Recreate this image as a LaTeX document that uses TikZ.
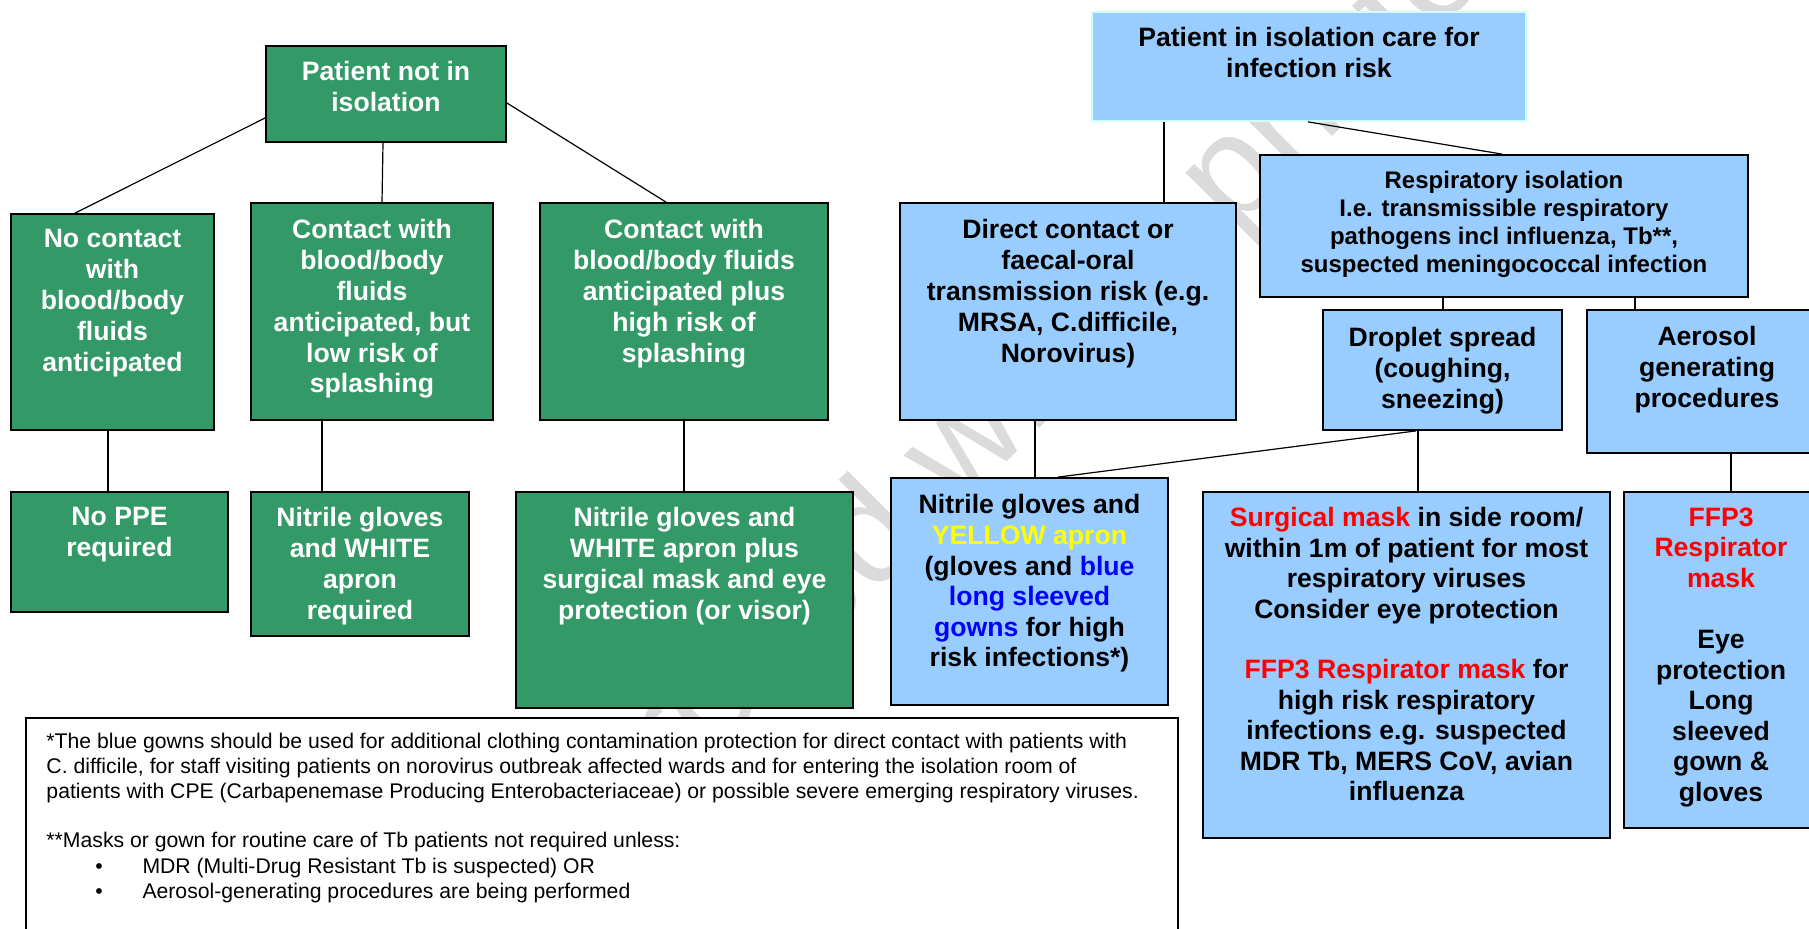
\documentclass[tikz,border=0pt]{standalone}
\usepackage{fontspec}
\setmainfont{Liberation Sans}
\usetikzlibrary{positioning,fit}
\definecolor{ppegreen}{HTML}{339966}
\definecolor{isoblue}{HTML}{99CCFF}
\definecolor{isoedge}{HTML}{CCFFFF}
\definecolor{alertred}{HTML}{FF0000}
\definecolor{apronyellow}{HTML}{FFFF00}
\definecolor{gownblue}{HTML}{0000FF}
\newcommand{\rd}[1]{\textcolor{alertred}{#1}}
\newcommand{\bl}[1]{\textcolor{gownblue}{#1}}
\begin{document}
\begin{tikzpicture}[x=.5pt,y=-.5pt,line width=.5pt,
  box/.style={draw=black,line width=.9pt,inner sep=0pt},
  gbox/.style={box,fill=ppegreen},
  bbox/.style={box,fill=isoblue},
  btxt/.style={inner sep=0pt,align=center,font=\fontsize{13.3}{15.4}\selectfont\bfseries},
  gtxt/.style={btxt,text=white},
  note/.style={inner sep=0pt,align=left,font=\fontsize{10.6}{12.5}\selectfont},
  link/.style={draw=black,line width=.6pt}]
  \path[use as bounding box] (0,0) rectangle (1809,929);
  % watermark
  \node[rotate=45,text=black!14,font=\fontsize{73}{73}\selectfont] (mark) at (923,492) {Uncontrolled when printed};
  % patient not in isolation
  \node[gbox,fit={(266,46)(506,142)}] (notiso) {};
  \node[gbox,fit={(11,214)(214,430)}] (nocontact) {};
  \node[gbox,fit={(251,203)(493,420)}] (lowrisk) {};
  \node[gbox,fit={(540,203)(828,420)}] (highrisk) {};
  \node[gbox,fit={(11,492)(228,612)}] (noppe) {};
  \node[gbox,fit={(251,492)(469,636)}] (whiteapron) {};
  \node[gbox,fit={(516,492)(853,708)}] (maskeye) {};
  \node[gtxt,below=8pt of notiso.north] (notisoT) {Patient not in\\isolation};
  \node[gtxt,below=8pt of nocontact.north] (nocontactT) {No contact\\with\\blood/body\\fluids\\anticipated};
  \node[gtxt,below=8.5pt of lowrisk.north] (lowriskT) {Contact with\\blood/body\\fluids\\anticipated, but\\low risk of\\splashing};
  \node[gtxt,below=8.5pt of highrisk.north] (highriskT) {Contact with\\blood/body fluids\\anticipated plus\\high risk of\\splashing};
  \node[gtxt,below=8pt of noppe.north] (noppeT) {No PPE\\required};
  \node[gtxt,below=8pt of whiteapron.north] (whiteapronT) {Nitrile gloves\\and WHITE\\apron\\required};
  \node[gtxt,below=8pt of maskeye.north] (maskeyeT) {Nitrile gloves and\\WHITE apron plus\\surgical mask and eye\\protection (or visor)};
  % patient in isolation
  \node[bbox,draw=isoedge,fit={(1092,12)(1526,121)}] (iso) {};
  \node[bbox,fit={(900,203)(1236,420)}] (direct) {};
  \node[bbox,fit={(1260,155)(1748,297)}] (resp) {};
  \node[bbox,fit={(1323,310)(1562,430)}] (droplet) {};
  \node[bbox,fit={(1587,310)(1827,453)}] (aerosol) {};
  \node[bbox,fit={(891,478)(1168,705)}] (yellow) {};
  \node[bbox,fit={(1203,492)(1610,838)}] (surgical) {};
  \node[bbox,fit={(1624,492)(1818,828)}] (ffp) {};
  \node[btxt,below=8pt of iso.north] (isoT) {Patient in isolation care for\\infection risk};
  \node[btxt,below=8.5pt of direct.north] (directT) {Direct contact or\\faecal-oral\\transmission risk (e.g.\\MRSA, C.difficile,\\Norovirus)};
  \node[btxt,font=\fontsize{12}{14}\selectfont\bfseries,below=8.5pt of resp.north] (respT) {Respiratory isolation\\I.e. transmissible respiratory\\pathogens incl influenza, Tb**,\\suspected meningococcal infection};
  \node[btxt,below=9pt of droplet.north] (dropletT) {Droplet spread\\(coughing,\\sneezing)};
  \node[btxt,below=8.5pt of aerosol.north] (aerosolT) {Aerosol\\generating\\procedures};
  \node[btxt,font=\fontsize{13.3}{15.3}\selectfont\bfseries,below=8.5pt of yellow.north] (yellowT) {Nitrile gloves and\\\textcolor{apronyellow}{YELLOW apron}\\(gloves and \bl{blue}\\\bl{long sleeved}\\\bl{gowns} for high\\risk infections*)};
  \node[btxt,font=\fontsize{13.3}{15.2}\selectfont\bfseries,below=8pt of surgical.north] (surgicalT) {\rd{Surgical mask} in side room/\\within 1m of patient for most\\respiratory viruses\\Consider eye protection\\[15.2pt]\rd{FFP3 Respirator mask} for\\high risk respiratory\\infections e.g. suspected\\MDR Tb, MERS CoV, avian\\influenza};
  \node[btxt,font=\fontsize{13.3}{15.3}\selectfont\bfseries,below=8pt of ffp.north] (ffpT) {\rd{FFP3}\\\rd{Respirator}\\\rd{mask}\\[15.3pt]Eye\\protection\\Long\\sleeved\\gown \&\\gloves};
  % connectors
  \draw[link] (notiso.west |- 0,118) -- (nocontact.north -| 75,0);
  \draw[link] (notiso.south -| 383,0) -- (lowrisk.north -| 382,0);
  \draw[link] (notiso.east |- 0,103) -- (highrisk.north -| 666,0);
  \draw[link] (nocontact.south -| 108,0) -- (noppe.north -| 108,0);
  \draw[link] (lowrisk.south -| 322,0) -- (whiteapron.north -| 322,0);
  \draw[link] (highrisk.south -| 684,0) -- (maskeye.north -| 684,0);
  \draw[link] (iso.south -| 1164,0) -- (direct.north -| 1164,0);
  \draw[link] (iso.south -| 1308,0) -- (resp.north -| 1502,0);
  \draw[link] (resp.south -| 1443,0) -- (droplet.north -| 1443,0);
  \draw[link] (resp.south -| 1635,0) -- (aerosol.north -| 1635,0);
  \draw[link] (direct.south -| 1035,0) -- (yellow.north -| 1035,0);
  \draw[link] (droplet.south -| 1416,0) -- (yellow.north -| 1058,0);
  \draw[link] (droplet.south -| 1418,0) -- (surgical.north -| 1418,0);
  \draw[link] (aerosol.south -| 1731,0) -- (ffp.north -| 1731,0);
  % footnotes
  \node[draw=black,fill=white,line width=.6pt,inner sep=0pt,fit={(26,718)(1178,950)}] (notebox) {};
  \node[note,anchor=north west] (noteA) at (46,732.5) {*The blue gowns should be used for additional clothing contamination protection for direct contact with patients with\\C. difficile, for staff visiting patients on norovirus outbreak affected wards and for entering the isolation room of\\patients with CPE (Carbapenemase Producing Enterobacteriaceae) or possible severe emerging respiratory viruses.};
  \node[note,anchor=base west] (noteB) at (46,847) {**Masks or gown for routine care of Tb patients not required unless:};
  \node[note,anchor=base] (dotA) at (99,873) {\textbullet};
  \node[note,anchor=base west] (itemA) at (142,873) {MDR (Multi-Drug Resistant Tb is suspected) OR};
  \node[note,anchor=base] (dotB) at (99,898) {\textbullet};
  \node[note,anchor=base west] (itemB) at (142,898) {Aerosol-generating procedures are being performed};
\end{tikzpicture}
\end{document}
